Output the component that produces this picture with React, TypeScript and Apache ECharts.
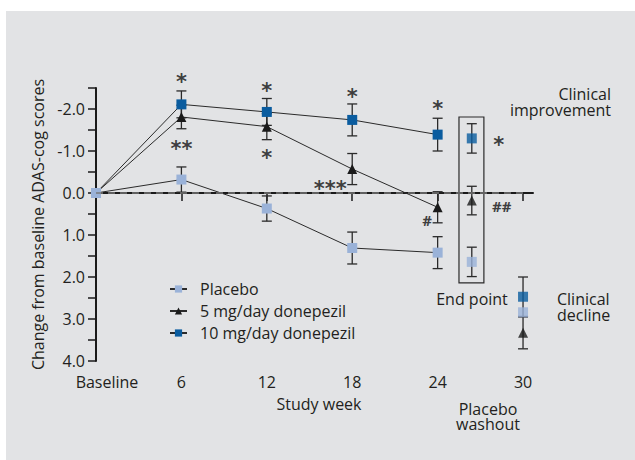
import React, { useEffect, useRef } from "react";
import * as echarts from "echarts";

// ---- data ----
const weeks = [0, 6, 12, 18, 24];
const placebo = [0, -0.32, 0.37, 1.31, 1.42];
const placeboErr = [0, 0.3, 0.3, 0.38, 0.38];
const dose5 = [0, -1.81, -1.58, -0.57, 0.34];
const dose5Err = [0, 0.28, 0.31, 0.37, 0.37];
const dose10 = [0, -2.11, -1.93, -1.74, -1.39];
const dose10Err = [0, 0.32, 0.32, 0.38, 0.39];

const endWeek = 26.4;
const endPlacebo = [1.64, 0.35];
const endDose5 = [0.18, 0.34];
const endDose10 = [-1.3, 0.35];

const washWeek = 30;
const washPlacebo = [2.84, 0];
const washDose5 = [3.33, 0.38];
const washDose10 = [2.47, 0.47];

const xTickValues = [6, 12, 18, 24, 30];
const xLabelValues = [0, 6, 12, 18, 24, 30];

const stars: [number, number, string][] = [
  [6, -2.77, "*"],
  [6, -1.17, "**"],
  [12, -2.55, "*"],
  [12, -0.95, "*"],
  [18, -2.41, "*"],
  [16.45, -0.21, "***"],
  [24, -2.12, "*"],
  [28.3, -1.26, "*"],
];
const hashes: [number, number, string][] = [
  [23.26, 0.64, "#"],
  [28.5, 0.31, "##"],
];

const endBox = [25.5, -1.81, 27.25, 2.14];

const FONT = "'Open Sans', sans-serif";
const FS = 16;
const TXT = "#231f20";
const C_PLA = "#9ab2d8";
const C_D10 = "#0a5c9f";
const C_D5 = "#1a1a1a";

function errData(xs: number[], ys: number[], es: number[]) {
  return xs
    .map((x, i) => [x, ys[i] - es[i], ys[i] + es[i]])
    .filter((d, i) => es[i] > 0);
}

const errAll = [
  ...errData(weeks, placebo, placeboErr),
  ...errData(weeks, dose5, dose5Err),
  ...errData(weeks, dose10, dose10Err),
  ...errData([endWeek], [endPlacebo[0]], [endPlacebo[1]]),
  ...errData([endWeek], [endDose5[0]], [endDose5[1]]),
  ...errData([endWeek], [endDose10[0]], [endDose10[1]]),
  ...errData([washWeek], [washPlacebo[0]], [washPlacebo[1]]),
  ...errData([washWeek], [washDose5[0]], [washDose5[1]]),
  ...errData([washWeek], [washDose10[0]], [washDose10[1]]),
];

function txt(text: string, x: number, y: number, align: string, lh: number) {
  return {
    type: "text",
    x,
    y,
    style: {
      text,
      font: `${FS}px ${FONT}`,
      fill: TXT,
      align,
      verticalAlign: "middle",
      lineHeight: lh,
    },
  };
}

export default function App() {
  const ref = useRef<HTMLDivElement>(null);
  useEffect(() => {
    document.body.style.margin = "0";
    const chart = echarts.init(ref.current!, null, { renderer: "svg" });
    const pair = (xs: number[], ys: number[]) => xs.map((x, i) => [x, ys[i]]);
    chart.setOption({
      animation: false,
      backgroundColor: "transparent",
      textStyle: { fontFamily: FONT, color: TXT },
      grid: { left: 96, right: 102, top: 88, bottom: 99 },
      legend: {
        data: ["Placebo", "5 mg/day donepezil", "10 mg/day donepezil"],
        orient: "vertical",
        left: 169,
        top: 281,
        padding: 0,
        itemWidth: 17,
        itemHeight: 9,
        itemGap: 6,
        textStyle: { fontFamily: FONT, fontSize: FS, color: TXT, padding: [0, 0, 0, 8] },
      },
      xAxis: {
        type: "value",
        min: 0,
        max: 30.7,
        interval: 6,
        splitLine: { show: false },
        axisLine: { lineStyle: { color: "#1a1a1a", width: 2 } },
        axisTick: { customValues: xTickValues, length: 8, lineStyle: { color: "#1a1a1a", width: 1.5 } },
        axisLabel: {
          customValues: xLabelValues,
          margin: 13,
          fontSize: FS,
          color: TXT,
          fontFamily: FONT,
          formatter: (v: number) => (v === 0 ? "{b|Baseline}" : String(v)),
          rich: { b: { fontSize: FS, fontFamily: FONT, color: TXT, padding: [0, 0, 0, 22] } },
        },
        name: "Study week",
        nameLocation: "middle",
        nameGap: 35,
        nameTextStyle: { fontSize: FS, color: TXT, fontFamily: FONT, padding: [0, 0, 0, 9] },
      },
      yAxis: {
        type: "value",
        inverse: true,
        min: -2.5,
        max: 4,
        interval: 0.5,
        splitLine: { show: false },
        axisLine: { show: true, lineStyle: { color: "#1a1a1a", width: 2 } },
        axisTick: { show: true, length: 8, lineStyle: { color: "#1a1a1a", width: 1.5 } },
        axisLabel: {
          margin: 11,
          fontSize: FS,
          color: TXT,
          fontFamily: FONT,
          formatter: (v: number) => (Math.abs(v - Math.round(v)) < 1e-6 ? v.toFixed(1) : ""),
        },
        name: "Change from baseline ADAS-cog scores",
        nameLocation: "middle",
        nameGap: 33,
        nameTextStyle: { fontSize: FS, color: TXT, fontFamily: FONT },
      },
      series: [
        {
          type: "custom",
          name: "err",
          z: 1,
          silent: true,
          clip: false,
          encode: { x: 0, y: [1, 2] },
          data: errAll,
          renderItem: (params: any, api: any) => {
            const x = api.value(0);
            const a = api.coord([x, api.value(1)]);
            const b = api.coord([x, api.value(2)]);
            const w = 5;
            const st = { stroke: "#2a2a2a", lineWidth: 1.3 };
            return {
              type: "group",
              children: [
                { type: "line", shape: { x1: a[0], y1: a[1], x2: b[0], y2: b[1] }, style: st },
                { type: "line", shape: { x1: a[0] - w, y1: a[1], x2: a[0] + w, y2: a[1] }, style: st },
                { type: "line", shape: { x1: b[0] - w, y1: b[1], x2: b[0] + w, y2: b[1] }, style: st },
              ],
            };
          },
        },
        {
          type: "line",
          name: "10 mg/day donepezil",
          z: 3,
          data: pair(weeks, dose10),
          symbol: "rect",
          symbolSize: 10,
          itemStyle: { color: C_D10 },
          lineStyle: { color: "#2a2a2a", width: 1 },
        },
        {
          type: "line",
          name: "5 mg/day donepezil",
          z: 3,
          data: pair(weeks, dose5),
          symbol: "triangle",
          symbolSize: 10,
          itemStyle: { color: C_D5 },
          lineStyle: { color: "#2a2a2a", width: 1 },
        },
        {
          type: "line",
          name: "Placebo",
          z: 4,
          data: pair(weeks, placebo),
          symbol: "rect",
          symbolSize: 10,
          itemStyle: { color: C_PLA },
          lineStyle: { color: "#2a2a2a", width: 1 },
          markLine: {
            silent: true,
            symbol: ["none", "none"],
            label: { show: false },
            lineStyle: { color: "#7a7a7a", width: 1.5, type: [7, 5] },
            data: [[{ coord: [0, 0] }, { coord: [30.3, 0] }]],
          },
          markArea: {
            silent: true,
            itemStyle: { color: "rgba(0,0,0,0)", borderColor: "#2a2a2a", borderWidth: 1.2 },
            data: [[{ coord: [endBox[0], endBox[1]] }, { coord: [endBox[2], endBox[3]] }]],
          },
        },
        {
          type: "scatter",
          name: "pla-extra",
          z: 4,
          symbol: "rect",
          symbolSize: 10,
          itemStyle: { color: C_PLA },
          clip: false,
          data: [
            [endWeek, endPlacebo[0]],
            [washWeek, washPlacebo[0]],
          ],
        },
        {
          type: "scatter",
          name: "d5-extra",
          z: 3,
          symbol: "triangle",
          symbolSize: 10,
          itemStyle: { color: C_D5 },
          clip: false,
          data: [
            [endWeek, endDose5[0]],
            [washWeek, washDose5[0]],
          ],
        },
        {
          type: "scatter",
          name: "d10-extra",
          z: 3,
          symbol: "rect",
          symbolSize: 10,
          itemStyle: { color: C_D10 },
          clip: false,
          data: [
            [endWeek, endDose10[0]],
            [washWeek, washDose10[0]],
          ],
        },
        {
          type: "scatter",
          name: "stars",
          z: 5,
          silent: true,
          clip: false,
          symbolSize: 1,
          itemStyle: { color: "rgba(0,0,0,0)" },
          data: stars,
          label: {
            show: true,
            position: "inside",
            formatter: (p: any) => p.value[2],
            fontFamily: "'DejaVu Sans', sans-serif",
            fontWeight: "bold",
            fontSize: 21,
            color: "#111",
            offset: [0, 5],
          },
        },
        {
          type: "scatter",
          name: "hashes",
          z: 5,
          silent: true,
          clip: false,
          symbolSize: 1,
          itemStyle: { color: "rgba(0,0,0,0)" },
          data: hashes,
          label: {
            show: true,
            position: "inside",
            formatter: (p: any) => p.value[2],
            fontFamily: FONT,
            fontWeight: "bold",
            fontSize: 15,
            color: "#111",
          },
        },
      ],
      graphic: [
        txt("Clinical", 611, 94, "right", 15),
        txt("improvement", 611, 110, "right", 15),
        txt("Clinical", 557, 299, "left", 15),
        txt("decline", 557, 315, "left", 15),
        txt("End point", 472, 299, "center", 15),
        txt("Placebo", 488, 409, "center", 14),
        txt("washout", 488, 424, "center", 14),
      ],
    });
    return () => chart.dispose();
  }, []);
  return (
    <div style={{ position: "relative", width: 635, height: 460, background: "#ffffff" }}>
      <div style={{ position: "absolute", left: 6, top: 11, right: 0, bottom: 0, background: "#e2e3e5" }} />
      <div ref={ref} style={{ position: "absolute", left: 0, top: 0, width: 635, height: 460 }} />
    </div>
  );
}
